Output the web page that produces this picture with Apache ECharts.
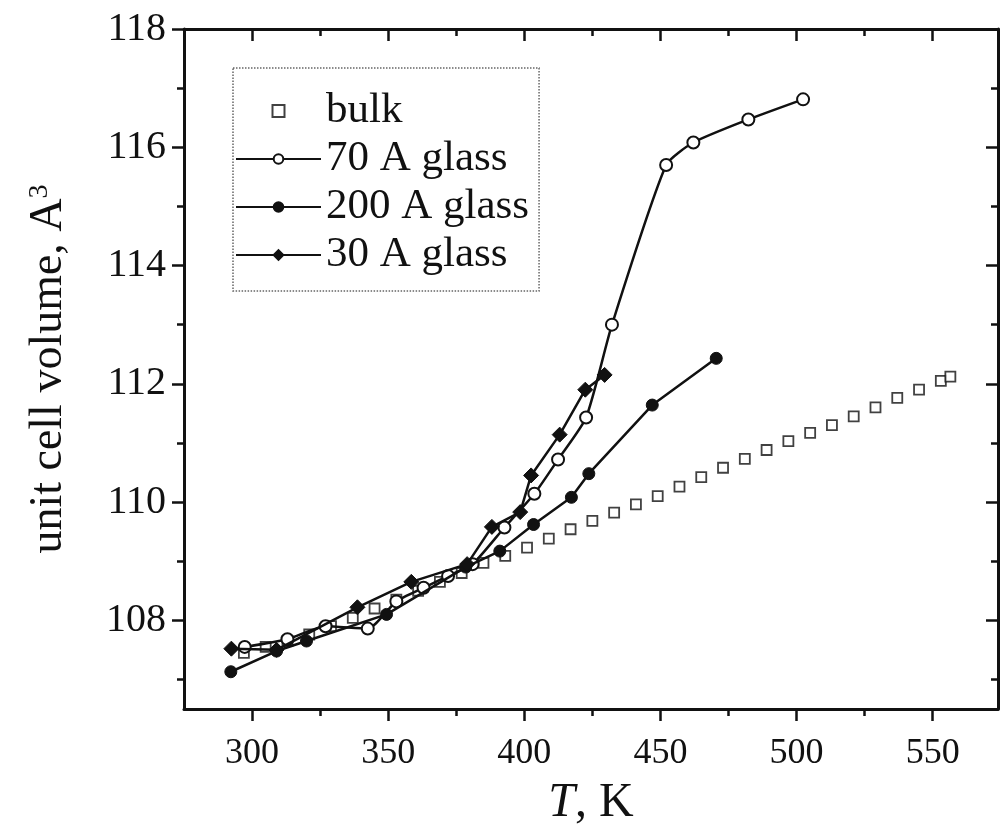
<!DOCTYPE html>
<html>
<head>
<meta charset="utf-8">
<script src="https://cdn.jsdelivr.net/npm/echarts@6/dist/echarts.min.js"></script>
<style>
  html, body { margin: 0; padding: 0; background: #fff; }
  #chart { width: 1001px; height: 832px; }
</style>
</head>
<body>
<div id="chart"></div>
<script>
// values (T in K, volume in A^3)
const bulkT = [297, 305, 313, 321, 329, 337, 345, 353, 361, 369, 377, 385, 393, 401, 409, 417, 425, 433, 441, 449, 457, 465, 473, 481, 489, 497, 505, 513, 521, 529, 537, 545, 553, 556.5]
const bulkV = [107.45, 107.55, 107.65, 107.76, 107.9, 108.04, 108.2, 108.35, 108.5, 108.65, 108.8, 108.97, 109.09, 109.23, 109.38, 109.54, 109.68, 109.82, 109.96, 110.1, 110.26, 110.42, 110.58, 110.73, 110.88, 111.03, 111.17, 111.3, 111.45, 111.6, 111.76, 111.9, 112.05, 112.12]

const glass70T = [297.3, 313, 327, 342.5, 353, 363, 372, 381, 392.7, 403.7, 412.4, 422.7, 432.2, 452.1, 462.1, 482.3, 502.4]
const glass70V = [107.55, 107.68, 107.9, 107.86, 108.32, 108.55, 108.75, 108.95, 109.57, 110.14, 110.72, 111.43, 113.0, 115.7, 116.08, 116.47, 116.81]

const glass200T = [292.2, 309, 320, 349.4, 378.5, 391, 403.4, 417.3, 423.7, 447, 470.5]
const glass200V = [107.13, 107.48, 107.65, 108.1, 108.9, 109.17, 109.62, 110.08, 110.48, 111.64, 112.43]

const glass30T = [292.4, 309, 338.7, 358.5, 379, 388.1, 398.5, 402.5, 413, 422.4, 429.5]
const glass30V = [107.52, 107.5, 108.22, 108.65, 108.95, 109.58, 109.83, 110.45, 111.14, 111.9, 112.15]

const xMajor = [300, 350, 400, 450, 500, 550]
const xMinor = [325, 375, 425, 475, 525]
const yMajor = [108, 110, 112, 114, 116, 118]
const yMinor = [107, 109, 111, 113, 115, 117]

const pairs = (xs, ys) => xs.map((x, i) => [x, ys[i]])

const font = 'Liberation Serif'
const ink = '#111'
const xMin = 275, xMax = 574, yMin = 106.5, yMax = 118

function xAxisOf(position, ticks, len, inside, withLine, labels) {
  return {
    type: 'value', position, min: xMin, max: xMax,
    splitLine: { show: false },
    axisLine: { show: withLine, onZero: false, lineStyle: { color: ink, width: 3 } },
    axisTick: { show: true, inside, length: len, customValues: ticks, lineStyle: { color: ink, width: 2.5 } },
    axisLabel: labels
      ? { show: true, customValues: ticks, margin: 27, color: ink, fontFamily: font, fontSize: 36 }
      : { show: false }
  }
}

function yAxisOf(position, ticks, len, inside, withLine, labels) {
  return {
    type: 'value', position, min: yMin, max: yMax,
    splitLine: { show: false },
    axisLine: { show: withLine, onZero: false, lineStyle: { color: ink, width: 3 } },
    axisTick: { show: true, inside, length: len, customValues: ticks, lineStyle: { color: ink, width: 2.5 } },
    axisLabel: labels
      ? { show: true, customValues: ticks, margin: 18, color: ink, fontFamily: font, fontSize: 40 }
      : { show: false }
  }
}

const chart = echarts.init(document.getElementById('chart'))

const xAxes = [
  xAxisOf('bottom', xMajor, 12, false, true, true),
  xAxisOf('bottom', xMinor, 7, false, false, false),
  xAxisOf('top', xMajor, 12, true, true, false),
  xAxisOf('top', xMinor, 7, true, false, false)
]
xAxes[0].name = '{i|T}, K'
xAxes[0].nameLocation = 'middle'
xAxes[0].nameGap = 70
xAxes[0].nameTextStyle = {
  color: ink, fontFamily: font, fontSize: 48,
  rich: { i: { fontStyle: 'italic', fontFamily: font, fontSize: 48, color: ink } }
}

const yAxes = [
  yAxisOf('left', yMajor, 12, false, true, true),
  yAxisOf('left', yMinor, 7, false, false, false),
  yAxisOf('right', yMajor, 12, true, true, false),
  yAxisOf('right', yMinor, 7, true, false, false)
]
yAxes[0].name = 'unit cell volume, A{s|3}'
yAxes[0].nameLocation = 'middle'
yAxes[0].nameGap = 112
yAxes[0].nameTextStyle = {
  color: ink, fontFamily: font, fontSize: 46,
  rich: { s: { fontFamily: font, fontSize: 28, color: ink, verticalAlign: 'top', padding: [0, 0, 18, 0] } }
}

chart.setOption({
  animation: false,
  backgroundColor: '#fff',
  textStyle: { fontFamily: font },
  grid: { left: 184, right: 3, top: 29, bottom: 122, containLabel: false },
  xAxis: xAxes,
  yAxis: yAxes,
  legend: {
    left: 233,
    top: 68,
    orient: 'vertical',
    padding: [21, 10, 14, 2],
    itemGap: 4,
    itemWidth: 85,
    itemHeight: 12,
    borderColor: '#666',
    borderWidth: 1.5,
    borderType: 'dotted',
    textStyle: { color: ink, fontFamily: font, fontSize: 43, lineHeight: 44 },
    data: [
      { name: 'bulk', icon: 'path://M0,0L10,0L10,10L0,10Z' },
      '70 A glass', '200 A glass', '30 A glass'
    ]
  },
  series: [
    {
      name: 'bulk',
      type: 'scatter',
      data: pairs(bulkT, bulkV),
      symbol: 'rect',
      symbolSize: 10,
      itemStyle: { color: '#fff', borderColor: ink, borderWidth: 1.8 },
      z: 2
    },
    {
      name: '70 A glass',
      type: 'line',
      data: pairs(glass70T, glass70V),
      smooth: 0.2,
      symbol: 'circle',
      symbolSize: 12,
      lineStyle: { color: ink, width: 2.5 },
      itemStyle: { color: '#fff', borderColor: ink, borderWidth: 2 },
      z: 3
    },
    {
      name: '200 A glass',
      type: 'line',
      data: pairs(glass200T, glass200V),
      symbol: 'circle',
      symbolSize: 12,
      lineStyle: { color: ink, width: 2.5 },
      itemStyle: { color: ink, borderColor: ink, borderWidth: 1 },
      z: 4
    },
    {
      name: '30 A glass',
      type: 'line',
      data: pairs(glass30T, glass30V),
      symbol: 'diamond',
      symbolSize: 15,
      lineStyle: { color: ink, width: 2.5 },
      itemStyle: { color: ink, borderColor: ink, borderWidth: 1 },
      z: 5
    }
  ]
})
</script>
</body>
</html>
